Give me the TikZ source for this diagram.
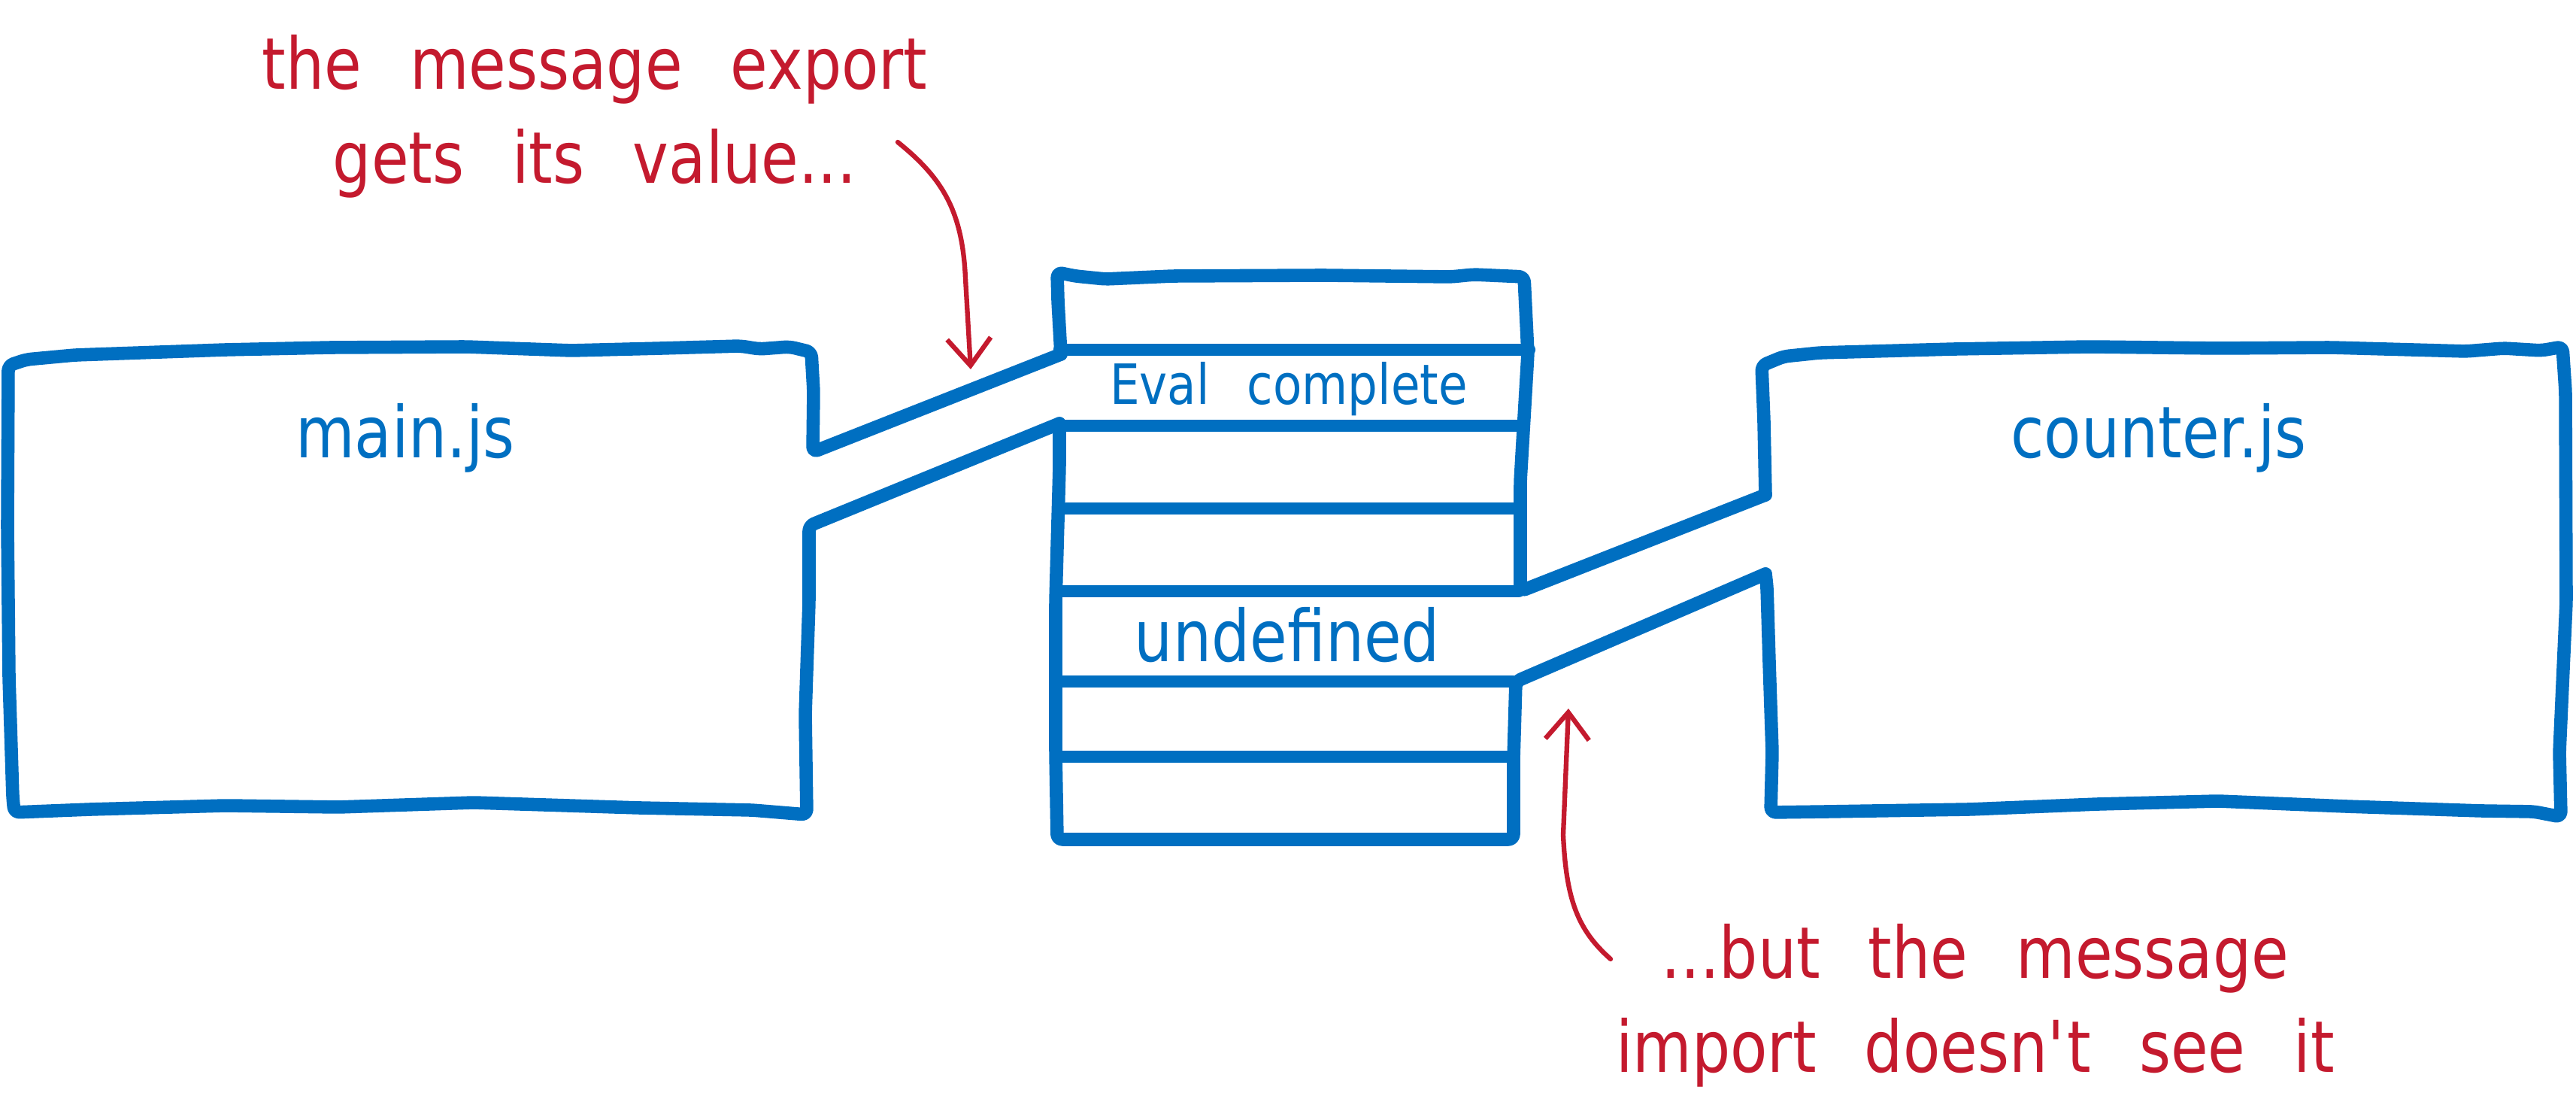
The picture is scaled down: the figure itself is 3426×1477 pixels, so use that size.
\documentclass[tikz,border=0pt]{standalone}
\usepackage{fontspec}
\newfontfamily\handfont[FakeStretch=0.85,WordSpace=2.5]{DejaVu Sans}
\usetikzlibrary{arrows.meta}
\definecolor{sketchblue}{HTML}{006FC1}
\definecolor{notered}{HTML}{C41A2E}

\tikzset{
	outline/.style={draw=sketchblue, line width=5pt, line join=round, line cap=round, rounded corners=2pt},
	row/.style={draw=sketchblue, line width=4.6pt, line cap=round},
	modlabel/.style={text=sketchblue, font=\handfont\fontsize{27}{32}\selectfont, inner sep=0pt, anchor=base},
	note/.style={text=notered, font=\handfont\fontsize{27}{35.6}\selectfont, align=center, inner sep=0pt, anchor=base},
	pointer/.style={draw=notered, line width=1.8pt, line cap=round, -{Straight Barb[length=0.36cm, width=0.58cm]}}
}

\begin{document}
\begin{tikzpicture}[x=0.01cm, y=-0.01cm]
				\useasboundingbox (0,0) rectangle (3426,1477);
				% main.js box, open on the right towards the stack
				\draw[outline] (1411,471) -- (1081,601) -- (1082,520) -- (1079,468)
					-- (1050,461) -- (1010,464) -- (985,460) -- (880,463) -- (760,466) -- (620,461)
					-- (440,462) -- (300,465) -- (100,472) -- (35,478) -- (11,486)
					-- (10,700) -- (12,900) -- (17,1060) -- (19,1080)
					-- (120,1076) -- (300,1071) -- (450,1073) -- (630,1067) -- (850,1074) -- (1000,1077) -- (1073,1083)
					-- (1071,950) -- (1076,800) -- (1076,699) -- (1409,563);
				% module map stack
				\draw[outline] (1411,471) -- (1407,400) -- (1406,362)
					-- (1430,367) -- (1470,371) -- (1560,367) -- (1760,366) -- (1930,368) -- (1960,365) -- (2027,368)
					-- (2032,470) -- (2022,640) -- (2022,786) -- (2348,658);
				\draw[outline] (2348,763) -- (2016,906) -- (2013,1010) -- (2013,1116)
					-- (1406,1116) -- (1404,1000) -- (1404,800) -- (1409,620) -- (1409,563);
				\foreach \y/\r in {465/2034, 566/2022, 676/2020, 786/2020, 906/2012, 1006/2010}
					\draw[row] (1409,\y) -- (\r,\y);
				% counter.js box, open on the left towards the stack
				\draw[outline] (2348,658) -- (2346,560) -- (2343,486)
					-- (2372,474) -- (2420,469) -- (2600,464) -- (2780,461) -- (2950,463) -- (3100,462)
					-- (3280,467) -- (3330,463) -- (3380,466) -- (3408,461)
					-- (3412,520) -- (3413,800) -- (3404,1000) -- (3406,1086)
					-- (3370,1079) -- (3300,1078) -- (3120,1072) -- (2950,1065) -- (2790,1069)
					-- (2620,1076) -- (2430,1079) -- (2355,1080)
					-- (2357,1000) -- (2353,880) -- (2350,780) -- (2348,763);
				% texts
				\node[modlabel] (mainjs) at (539,609) {main.js};
				\node[modlabel] (counterjs) at (2871,609) {counter.js};
				\node[modlabel, font=\handfont\fontsize{21}{25}\selectfont] (evalcell) at (1714,538) {Eval complete};
				\node[modlabel] (undefcell) at (1712,880) {undefined};
				\node[note] (exportnote) at (791,244) {the message export\\gets its value...};
				\node[note] (importnote) at (2627,1426) {...but the message\\import doesn\textquotesingle t see it};
				% pointers
				\coordinate (exportfrom) at (1194,189);
				\coordinate (exporttip) at (1291,491);
				\coordinate (importfrom) at (2142,1275);
				\coordinate (importtip) at (2086,942);
				\draw[pointer] (exportfrom) .. controls (1255,238) and (1280,282) .. (1284,370) -- (exporttip);
				\draw[pointer] (importfrom) .. controls (2098,1236) and (2083,1196) .. (2079,1110) -- (importtip);
\end{tikzpicture}
\end{document}
